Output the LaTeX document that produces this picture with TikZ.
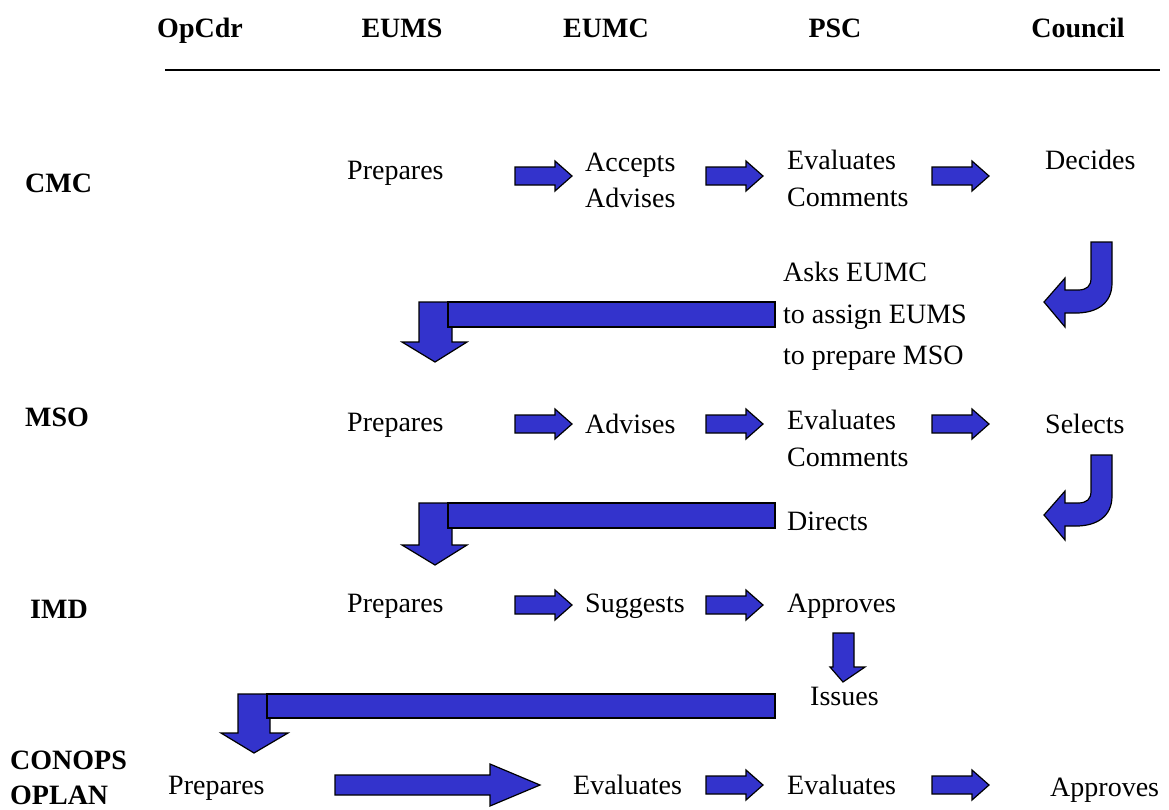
\documentclass[tikz,border=0pt]{standalone}
\usepackage{fontspec}
\setmainfont{Liberation Serif}
\definecolor{arrblue}{HTML}{3333CC}
\begin{document}
\begin{tikzpicture}[x=1pt,y=-1pt,
  blk/.style={fill=arrblue,draw=black,line width=1.2pt,line join=miter},
  hdr/.style={font=\fontsize{28}{32}\selectfont\bfseries,anchor=base},
  lbl/.style={font=\fontsize{28}{32}\selectfont\bfseries,anchor=base west,inner sep=0pt},
  txt/.style={font=\fontsize{28}{32}\selectfont,anchor=base west,inner sep=0pt},
  rarr/.pic={\draw[blk] (0,-9) -- (40,-9) -- (40,-15) -- (57,0) -- (40,15) -- (40,9) -- (0,9) -- cycle;},
  curl/.pic={\draw[blk] (1091,242) -- (1112,242) -- (1112,283) .. controls (1112,304) and (1096,313) .. (1076,313) -- (1065,313) -- (1065,327) -- (1044,302) -- (1065,278) -- (1065,290) -- (1078,290) .. controls (1087,290) and (1091,286) .. (1091,278) -- cycle;}
]
\useasboundingbox (0,0) rectangle (1169,809);
% headers
\node[hdr] (hop) at (200,37) {OpCdr};
\node[hdr] (hums) at (402,37) {EUMS};
\node[hdr] (humc) at (606,37) {EUMC};
\node[hdr] (hpsc) at (835,37) {PSC};
\node[hdr] (hcou) at (1078,37) {Council};
\coordinate (lineL) at (165,70);
\coordinate (lineR) at (1160,70);
\draw[line width=1.2pt] (lineL) -- (lineR);
% row labels
\node[lbl] (cmc) at (25,192) {CMC};
\node[lbl] (mso) at (25,426) {MSO};
\node[lbl] (imd) at (30,618) {IMD};
\node[lbl] (conops) at (10,769) {CONOPS};
\node[lbl] (oplan) at (10,804) {OPLAN};
% CMC row
\node[txt] (p1) at (347,179) {Prepares};
\node[txt] (acc) at (585,171) {Accepts};
\node[txt] (adv1) at (585,207) {Advises};
\node[txt] (ev1) at (787,169) {Evaluates};
\node[txt] (co1) at (787,206) {Comments};
\node[txt] (dec) at (1045,169) {Decides};
\pic at (515,176) {rarr};
\pic at (706,176) {rarr};
\pic at (932,176) {rarr};
% curl 1
\pic at (0,0) {curl};
% L arrow 1
\node[txt] (asks) at (783,281) {Asks EUMC};
\node[txt] (assign) at (783,323) {to assign EUMS};
\node[txt] (prep) at (783,364) {to prepare MSO};
\draw[blk] (419,302) -- (452,302) -- (452,342) -- (467,342) -- (435,362) -- (402,342) -- (419,342) -- cycle;
\draw[blk] (448,302) rectangle (775,327);
% MSO row
\node[txt] (p2) at (347,431) {Prepares};
\node[txt] (adv2) at (585,433) {Advises};
\node[txt] (ev2) at (787,429) {Evaluates};
\node[txt] (co2) at (787,466) {Comments};
\node[txt] (sel) at (1045,433) {Selects};
\pic at (515,424) {rarr};
\pic at (706,424) {rarr};
\pic at (932,424) {rarr};
\begin{scope}[yshift=-213pt]
\pic at (0,0) {curl};
\end{scope}
% L arrow 2
\node[txt] (dir) at (787,530) {Directs};
\draw[blk] (419,503) -- (452,503) -- (452,545) -- (467,545) -- (435,565) -- (402,545) -- (419,545) -- cycle;
\draw[blk] (448,503) rectangle (775,528);
% IMD row
\node[txt] (p3) at (347,612) {Prepares};
\node[txt] (sug) at (585,612) {Suggests};
\node[txt] (app1) at (787,612) {Approves};
\pic at (515,605) {rarr};
\pic at (706,605) {rarr};
\draw[blk] (833,633) -- (854,633) -- (854,667) -- (865,667) -- (843,682) -- (830,667) -- (833,667) -- cycle;
\node[txt] (iss) at (810,705) {Issues};
% L arrow 3
\draw[blk] (238,694) -- (270,694) -- (270,733) -- (288,733) -- (254,753) -- (221,733) -- (238,733) -- cycle;
\draw[blk] (267,694) rectangle (775,718);
% CONOPS row
\node[txt] (p4) at (168,794) {Prepares};
\node[txt] (ev3) at (573,794) {Evaluates};
\node[txt] (ev4) at (787,794) {Evaluates};
\node[txt] (app2) at (1050,796) {Approves};
\draw[blk] (335,775) -- (490,775) -- (490,764) -- (540,785) -- (490,806) -- (490,795) -- (335,795) -- cycle;
\pic at (706,785) {rarr};
\pic at (932,785) {rarr};
\end{tikzpicture}
\end{document}
